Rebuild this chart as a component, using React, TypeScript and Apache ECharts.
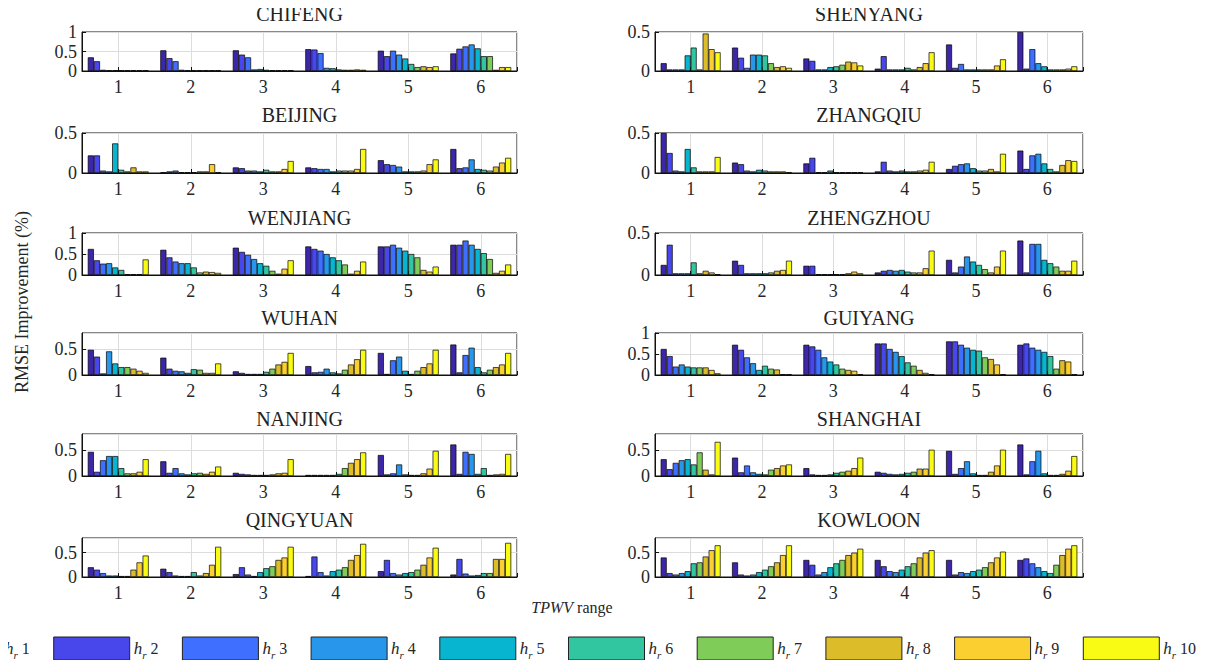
import React, { useEffect, useRef } from "react";
import * as echarts from "echarts";

const cities = [
  "CHIFENG", "SHENYANG", "BEIJING", "ZHANGQIU", "WENJIANG", "ZHENGZHOU",
  "WUHAN", "GUIYANG", "NANJING", "SHANGHAI", "QINGYUAN", "KOWLOON",
];
const tpwvRanges = [1, 2, 3, 4, 5, 6];
const hrLabels = ["1", "2", "3", "4", "5", "6", "7", "8", "9", "10"];
const hrColors = [
  "#3e26a8", "#4747eb", "#3e6fff", "#2796eb", "#08b5d0",
  "#31c69f", "#80cc59", "#dcbd29", "#fccf30", "#f9fb14",
];
const yMaxes = [1, 0.5, 0.5, 0.5, 1, 0.5, 0.8, 1, 0.8, 0.8, 0.8, 0.8];

// each city: 6 TPWV ranges x 10 hr values
const chifeng = [
  [0.35, 0.25, 0.03, 0.02, 0.02, 0.02, 0.02, 0.02, 0.02, 0.02],
  [0.53, 0.33, 0.25, 0.03, 0.02, 0.02, 0.02, 0.02, 0.02, 0.02],
  [0.53, 0.42, 0.35, 0.04, 0.05, 0.03, 0.02, 0.02, 0.02, 0.02],
  [0.56, 0.55, 0.46, 0.08, 0.07, 0.04, 0.03, 0.03, 0.04, 0.03],
  [0.52, 0.38, 0.52, 0.42, 0.32, 0.18, 0.10, 0.12, 0.10, 0.12],
  [0.45, 0.57, 0.63, 0.68, 0.58, 0.38, 0.38, 0.03, 0.10, 0.10],
];
const shenyang = [
  [0.10, 0.02, 0.02, 0.02, 0.20, 0.30, 0.02, 0.48, 0.28, 0.24],
  [0.30, 0.17, 0.04, 0.21, 0.21, 0.20, 0.10, 0.05, 0.06, 0.04],
  [0.16, 0.13, 0.02, 0.02, 0.05, 0.06, 0.08, 0.12, 0.11, 0.07],
  [0.03, 0.19, 0.02, 0.02, 0.02, 0.04, 0.02, 0.05, 0.10, 0.24],
  [0.34, 0.04, 0.09, 0.02, 0.02, 0.02, 0.02, 0.02, 0.07, 0.15],
  [0.50, 0.03, 0.28, 0.10, 0.06, 0.02, 0.02, 0.02, 0.03, 0.06],
];
const beijing = [
  [0.22, 0.22, 0.03, 0.02, 0.37, 0.04, 0.02, 0.07, 0.02, 0.02],
  [0.01, 0.02, 0.03, 0.01, 0.01, 0.01, 0.02, 0.02, 0.11, 0.01],
  [0.07, 0.06, 0.03, 0.03, 0.02, 0.04, 0.02, 0.02, 0.05, 0.15],
  [0.07, 0.06, 0.05, 0.05, 0.02, 0.03, 0.03, 0.03, 0.05, 0.30],
  [0.16, 0.11, 0.10, 0.08, 0.02, 0.02, 0.02, 0.03, 0.11, 0.17],
  [0.30, 0.06, 0.07, 0.17, 0.05, 0.04, 0.03, 0.08, 0.13, 0.19],
];
const zhangqiu = [
  [0.50, 0.25, 0.03, 0.02, 0.30, 0.07, 0.02, 0.02, 0.02, 0.20],
  [0.13, 0.11, 0.03, 0.02, 0.04, 0.03, 0.02, 0.02, 0.02, 0.01],
  [0.12, 0.19, 0.01, 0.01, 0.03, 0.01, 0.01, 0.01, 0.01, 0.01],
  [0.02, 0.14, 0.03, 0.02, 0.03, 0.02, 0.02, 0.03, 0.04, 0.14],
  [0.05, 0.09, 0.11, 0.12, 0.06, 0.03, 0.03, 0.05, 0.02, 0.24],
  [0.28, 0.05, 0.22, 0.24, 0.12, 0.05, 0.02, 0.10, 0.16, 0.15],
];
const wenjiang = [
  [0.62, 0.35, 0.27, 0.28, 0.18, 0.12, 0.02, 0.02, 0.02, 0.37],
  [0.60, 0.42, 0.32, 0.28, 0.28, 0.18, 0.06, 0.08, 0.07, 0.05],
  [0.65, 0.55, 0.48, 0.38, 0.28, 0.22, 0.10, 0.03, 0.15, 0.35],
  [0.68, 0.62, 0.58, 0.50, 0.42, 0.35, 0.25, 0.03, 0.10, 0.32],
  [0.68, 0.68, 0.72, 0.65, 0.58, 0.50, 0.42, 0.12, 0.08, 0.20],
  [0.72, 0.72, 0.82, 0.72, 0.62, 0.52, 0.38, 0.05, 0.10, 0.25],
];
const zhengzhou = [
  [0.12, 0.36, 0.02, 0.02, 0.02, 0.15, 0.02, 0.05, 0.03, 0.01],
  [0.17, 0.12, 0.02, 0.02, 0.02, 0.02, 0.03, 0.05, 0.06, 0.17],
  [0.11, 0.11, 0.01, 0.01, 0.01, 0.01, 0.01, 0.02, 0.04, 0.02],
  [0.03, 0.05, 0.06, 0.05, 0.06, 0.04, 0.03, 0.03, 0.08, 0.29],
  [0.18, 0.03, 0.10, 0.22, 0.16, 0.12, 0.07, 0.03, 0.10, 0.29],
  [0.41, 0.03, 0.37, 0.37, 0.18, 0.14, 0.10, 0.05, 0.05, 0.17],
];
const wuhan = [
  [0.48, 0.35, 0.03, 0.45, 0.22, 0.15, 0.15, 0.12, 0.08, 0.04],
  [0.33, 0.12, 0.08, 0.07, 0.04, 0.11, 0.10, 0.04, 0.04, 0.22],
  [0.07, 0.04, 0.02, 0.02, 0.02, 0.06, 0.12, 0.20, 0.25, 0.42],
  [0.17, 0.05, 0.06, 0.12, 0.05, 0.03, 0.10, 0.20, 0.30, 0.48],
  [0.42, 0.02, 0.28, 0.35, 0.08, 0.02, 0.08, 0.15, 0.22, 0.48],
  [0.58, 0.05, 0.38, 0.52, 0.15, 0.05, 0.10, 0.15, 0.20, 0.42],
];
const guiyang = [
  [0.62, 0.45, 0.20, 0.25, 0.20, 0.18, 0.18, 0.18, 0.12, 0.04],
  [0.72, 0.60, 0.42, 0.28, 0.12, 0.22, 0.15, 0.13, 0.02, 0.02],
  [0.72, 0.68, 0.60, 0.42, 0.32, 0.25, 0.15, 0.12, 0.10, 0.02],
  [0.75, 0.75, 0.62, 0.55, 0.45, 0.30, 0.22, 0.12, 0.05, 0.02],
  [0.80, 0.80, 0.72, 0.65, 0.60, 0.58, 0.42, 0.38, 0.25, 0.02],
  [0.72, 0.75, 0.65, 0.60, 0.55, 0.45, 0.15, 0.35, 0.32, 0.02],
];
const nanjing = [
  [0.46, 0.08, 0.30, 0.38, 0.38, 0.15, 0.05, 0.05, 0.08, 0.32],
  [0.28, 0.06, 0.15, 0.05, 0.03, 0.05, 0.06, 0.04, 0.08, 0.18],
  [0.06, 0.04, 0.03, 0.02, 0.02, 0.02, 0.03, 0.05, 0.06, 0.32],
  [0.02, 0.02, 0.02, 0.02, 0.02, 0.04, 0.15, 0.25, 0.32, 0.45],
  [0.40, 0.03, 0.05, 0.22, 0.03, 0.02, 0.02, 0.05, 0.14, 0.48],
  [0.60, 0.04, 0.46, 0.42, 0.04, 0.15, 0.02, 0.03, 0.04, 0.42],
];
const shanghai = [
  [0.32, 0.13, 0.25, 0.30, 0.32, 0.22, 0.45, 0.12, 0.03, 0.65],
  [0.35, 0.07, 0.20, 0.07, 0.04, 0.03, 0.12, 0.15, 0.20, 0.22],
  [0.15, 0.03, 0.02, 0.02, 0.03, 0.06, 0.08, 0.10, 0.15, 0.35],
  [0.08, 0.06, 0.04, 0.03, 0.04, 0.06, 0.08, 0.14, 0.14, 0.50],
  [0.48, 0.04, 0.15, 0.28, 0.05, 0.02, 0.02, 0.08, 0.20, 0.50],
  [0.60, 0.03, 0.28, 0.48, 0.05, 0.02, 0.02, 0.04, 0.10, 0.38],
];
const qingyuan = [
  [0.20, 0.15, 0.08, 0.03, 0.03, 0.02, 0.02, 0.15, 0.30, 0.44],
  [0.17, 0.10, 0.03, 0.02, 0.02, 0.10, 0.03, 0.08, 0.25, 0.62],
  [0.06, 0.20, 0.05, 0.02, 0.10, 0.18, 0.22, 0.35, 0.40, 0.62],
  [0.02, 0.42, 0.10, 0.03, 0.12, 0.15, 0.20, 0.35, 0.45, 0.68],
  [0.12, 0.35, 0.08, 0.05, 0.08, 0.10, 0.15, 0.25, 0.40, 0.60],
  [0.05, 0.37, 0.07, 0.03, 0.04, 0.08, 0.08, 0.37, 0.37, 0.70],
];
const kowloon = [
  [0.40, 0.08, 0.05, 0.08, 0.12, 0.28, 0.30, 0.42, 0.55, 0.65],
  [0.30, 0.05, 0.03, 0.05, 0.10, 0.15, 0.22, 0.30, 0.45, 0.65],
  [0.35, 0.25, 0.05, 0.10, 0.20, 0.28, 0.35, 0.45, 0.50, 0.58],
  [0.35, 0.22, 0.12, 0.10, 0.15, 0.22, 0.28, 0.40, 0.50, 0.55],
  [0.35, 0.05, 0.10, 0.08, 0.12, 0.15, 0.20, 0.30, 0.40, 0.52],
  [0.35, 0.38, 0.28, 0.20, 0.12, 0.08, 0.25, 0.45, 0.58, 0.65],
];
const cityData = [
  chifeng, shenyang, beijing, zhangqiu, wenjiang, zhengzhou,
  wuhan, guiyang, nanjing, shanghai, qingyuan, kowloon,
];

// layout
const colLeft = [82, 655];
const colWidth = [435, 428];
const rowTop = [32, 133, 233, 333, 434, 538];
const rowHeight = [39, 40, 42, 42, 42, 39];
const titleY = [14, 115, 218, 318, 419, 520];
const FONT = "'Liberation Serif', 'DejaVu Serif', serif";
const TXT = "#262626";

export default function App() {
  const ref = useRef<HTMLDivElement>(null);
  useEffect(() => {
    if (!ref.current) return;
    const chart = echarts.init(ref.current, null, { renderer: "svg" });
    const grids: any[] = [];
    const xAxes: any[] = [];
    const yAxes: any[] = [];
    const series: any[] = [];
    const graphics: any[] = [];

    cities.forEach((name, c) => {
      const row = Math.floor(c / 2);
      const col = c % 2;
      grids.push({
        left: colLeft[col], top: rowTop[row], width: colWidth[col], height: rowHeight[row],
        show: true, borderColor: "#111", borderWidth: 1, backgroundColor: "#fff",
        containLabel: false,
      });
      xAxes.push({
        type: "value", gridIndex: c, min: 0.5, max: 6.5, minInterval: 1, maxInterval: 1,
        axisLine: { show: true, onZero: false, lineStyle: { color: "#111", width: 1 } },
        axisTick: { show: true, inside: true, length: 4, lineStyle: { color: "#111" } },
        axisLabel: {
          fontFamily: FONT, fontSize: 18, color: TXT, margin: 7,
          formatter: (v: number) => (Math.abs(v - Math.round(v)) < 1e-6 ? String(Math.round(v)) : ""),
        },
        splitLine: { show: true, lineStyle: { color: "#dcdcdc", width: 1 } },
      });
      const ym = yMaxes[c];
      yAxes.push({
        type: "value", gridIndex: c, min: 0, max: ym, interval: 0.5,
        axisLine: { show: true, lineStyle: { color: "#111", width: 1 } },
        axisTick: { show: true, inside: true, length: 4, lineStyle: { color: "#111" } },
        axisLabel: {
          fontFamily: FONT, fontSize: 18, color: TXT, margin: 5,
          showMaxLabel: ym === 0.8 ? false : true,
          formatter: (v: number) => String(Math.round(v * 10) / 10),
        },
        splitLine: { show: true, lineStyle: { color: "#dcdcdc", width: 1 } },
      });
      hrLabels.forEach((hr, k) => {
        series.push({
          type: "bar", name: "hr " + hr, xAxisIndex: c, yAxisIndex: c,
          data: cityData[c].map((g, i) => [tpwvRanges[i], g[k]]),
          barGap: "0%", barCategoryGap: "16%",
          itemStyle: { color: hrColors[k], borderColor: "#000", borderWidth: 0.7 },
          silent: true,
        });
      });
      graphics.push({
        type: "text", x: colLeft[col] + colWidth[col] / 2, y: titleY[row],
        style: { text: name, align: "center", verticalAlign: "middle", fontFamily: FONT, fontSize: 20, fill: "#222" },
      });
    });

    graphics.push({
      type: "text", x: 22, y: 302, rotation: Math.PI / 2,
      style: { text: "RMSE Improvement (%)", align: "center", verticalAlign: "middle", fontFamily: FONT, fontSize: 18, fill: TXT },
    });
    graphics.push({
      type: "text", x: 572, y: 607,
      style: {
        text: "{i|TPWV} range", align: "center", verticalAlign: "middle",
        fontFamily: FONT, fontSize: 16, fill: TXT,
        rich: { i: { fontFamily: FONT, fontSize: 16, fontStyle: "italic", fill: TXT } },
      },
    });

    hrLabels.forEach((hr, i) => {
      const lx = 5 + i * 128.7;
      graphics.push({
        type: "rect", shape: { x: lx - 80, y: 637, width: 76, height: 23 },
        style: { fill: hrColors[i], stroke: "#222", lineWidth: 1 },
      });
      graphics.push({
        type: "text", x: lx, y: 648,
        style: {
          text: "{h|h}{r|r}{n| " + hr + "}", align: "left", verticalAlign: "middle",
          rich: {
            h: { fontFamily: FONT, fontSize: 17, fontStyle: "italic", fill: TXT, lineHeight: 24, verticalAlign: "middle" },
            r: { fontFamily: FONT, fontSize: 11, fontStyle: "italic", fill: TXT, lineHeight: 24, verticalAlign: "bottom" },
            n: { fontFamily: FONT, fontSize: 16, fill: TXT, lineHeight: 24, verticalAlign: "middle" },
          },
        },
      });
    });

    chart.setOption({
      animation: false,
      backgroundColor: "#fff",
      grid: grids,
      xAxis: xAxes,
      yAxis: yAxes,
      series,
      graphic: graphics,
    });
    return () => chart.dispose();
  }, []);
  return <div ref={ref} style={{ width: 1221, height: 668, margin: -8 }} />;
}
